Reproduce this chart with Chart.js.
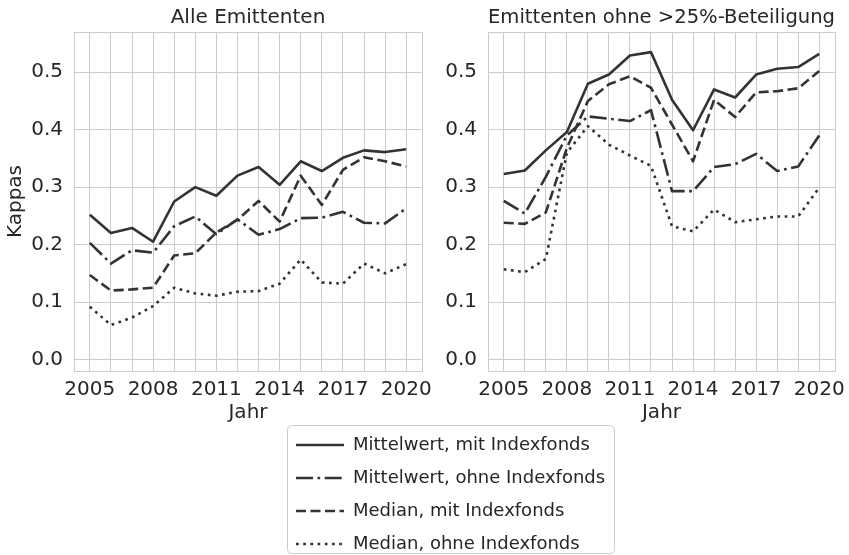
<!DOCTYPE html>
<html>
<head>
<meta charset="utf-8">
<script src="https://cdn.jsdelivr.net/npm/chart.js@4.4.1/dist/chart.umd.min.js"></script>
<style>
body{margin:0;background:#fff;width:849px;height:555px;overflow:hidden;position:relative}
.box{position:absolute}
</style>
</head>
<body>
<div class="box" style="left:0;top:0;width:440px;height:430px"><canvas id="left"></canvas></div>
<div class="box" style="left:440px;top:0;width:409px;height:430px"><canvas id="right"></canvas></div>
<div class="box" style="left:281px;top:421px;width:345px;height:150px"><canvas id="legend"></canvas></div>
<script>
// data

const years = [2005, 2006, 2007, 2008, 2009, 2010, 2011, 2012, 2013, 2014, 2015, 2016, 2017, 2018, 2019, 2020]
const xTickLabels = [2005, 2008, 2011, 2014, 2017, 2020]
const yTickValues = [0, 0.1, 0.2, 0.3, 0.4, 0.5]
const yTickLabels = ['0.0', '0.1', '0.2', '0.3', '0.4', '0.5']

const seriesNames = ['Mittelwert, mit Indexfonds', 'Mittelwert, ohne Indexfonds', 'Median, mit Indexfonds', 'Median, ohne Indexfonds']

// Alle Emittenten
const alleMittelMit = [0.252, 0.220, 0.229, 0.205, 0.275, 0.300, 0.285, 0.320, 0.335, 0.304, 0.345, 0.328, 0.351, 0.364, 0.361, 0.366]
const alleMittelOhne = [0.203, 0.167, 0.190, 0.186, 0.232, 0.249, 0.218, 0.244, 0.217, 0.227, 0.246, 0.247, 0.257, 0.238, 0.237, 0.263]
const alleMedianMit = [0.147, 0.120, 0.122, 0.125, 0.181, 0.185, 0.221, 0.243, 0.276, 0.240, 0.320, 0.269, 0.330, 0.352, 0.345, 0.336]
const alleMedianOhne = [0.092, 0.060, 0.073, 0.093, 0.125, 0.115, 0.111, 0.118, 0.119, 0.132, 0.174, 0.134, 0.132, 0.167, 0.150, 0.166]

// Emittenten ohne >25%-Beteiligung
const ohneMittelMit = [0.323, 0.329, 0.364, 0.396, 0.480, 0.496, 0.529, 0.535, 0.452, 0.399, 0.470, 0.456, 0.496, 0.506, 0.509, 0.532]
const ohneMittelOhne = [0.276, 0.254, 0.318, 0.390, 0.423, 0.419, 0.415, 0.434, 0.293, 0.293, 0.335, 0.340, 0.358, 0.328, 0.336, 0.390]
const ohneMedianMit = [0.238, 0.236, 0.256, 0.368, 0.450, 0.479, 0.493, 0.473, 0.409, 0.345, 0.452, 0.422, 0.465, 0.467, 0.472, 0.502]
const ohneMedianOhne = [0.157, 0.152, 0.175, 0.360, 0.406, 0.374, 0.355, 0.337, 0.232, 0.223, 0.261, 0.239, 0.244, 0.249, 0.249, 0.299]

const xMin = 2004.25, xMax = 2020.75
const yMin = -0.02, yMax = 0.57

// styles

const lw = 2.6
const lineColor = '#333333'
const dashes = [[], [17, 4.5, 2.7, 4.5], [10, 4.5], [2.7, 4.5]]
const gridColor = '#cccccc'
const textColor = '#262626'
const font = {family: 'DejaVu Sans', size: 20}

function makeDatasets(seriesList){
   return seriesList.map((values, i) => ({
      label: seriesNames[i],
      data: values.map((v, j) => ({x: years[j], y: v})),
      borderColor: lineColor,
      borderWidth: lw,
      borderDash: dashes[i],
      borderJoinStyle: 'round',
      pointRadius: 0,
      tension: 0,
      fill: false
   }))
}

function makeOptions(title, yWidth, showYTitle, padRight){
   return {
      responsive: true,
      maintainAspectRatio: false,
      animation: false,
      layout: {padding: {top: 0, bottom: 1, left: 0, right: padRight}},
      plugins: {legend: {display: false}, tooltip: {enabled: false}},
      scales: {
         x: {
            type: 'linear',
            min: xMin,
            max: xMax,
            afterBuildTicks: s => { s.ticks = [xMin, ...years, xMax].map(value => ({value})) },
            afterFit: s => { s.height = 58 },
            ticks: {
               autoSkip: false, maxRotation: 0, minRotation: 0, padding: 7,
               font: font, color: textColor,
               callback: v => xTickLabels.includes(v) ? String(v) : ''
            },
            grid: {color: gridColor, lineWidth: 1, drawTicks: false},
            border: {color: gridColor},
            title: {display: true, text: 'Jahr', font: font, color: textColor, padding: {top: 4, bottom: 4}}
         },
         top: {
            type: 'linear',
            position: 'top',
            afterFit: s => { s.height = 32 },
            ticks: {display: false},
            grid: {display: false},
            border: {display: false},
            title: {display: true, text: title, font: font, color: textColor, padding: {top: 6, bottom: 2}}
         },
         y: {
            min: yMin,
            max: yMax,
            afterBuildTicks: s => { s.ticks = [yMin, ...yTickValues, yMax].map(value => ({value})) },
            afterFit: s => { s.width = yWidth },
            ticks: {
               padding: 11, font: font, color: textColor,
               callback: v => {
                  const i = yTickValues.findIndex(t => Math.abs(t - v) < 1e-9)
                  return i >= 0 ? yTickLabels[i] : ''
               }
            },
            grid: {color: gridColor, lineWidth: 1, drawTicks: false},
            border: {color: gridColor},
            title: {display: showYTitle, text: 'Kappas', font: font, color: textColor, padding: {top: 4, bottom: 4}}
         }
      }
   }
}

new Chart(document.getElementById('left'), {
   type: 'line',
   data: {datasets: makeDatasets([alleMittelMit, alleMittelOhne, alleMedianMit, alleMedianOhne])},
   options: makeOptions('Alle Emittenten', 74, true, 18)
})

new Chart(document.getElementById('right'), {
   type: 'line',
   data: {datasets: makeDatasets([ohneMittelMit, ohneMittelOhne, ohneMedianMit, ohneMedianOhne])},
   options: makeOptions('Emittenten ohne >25%-Beteiligung', 48, false, 14)
})

// legend only chart, with a frame round it

const legendFrame = {
   id: 'legendFrame',
   afterDraw(chart){
      const ctx = chart.ctx
      ctx.save()
      ctx.strokeStyle = gridColor
      ctx.lineWidth = 1
      ctx.beginPath()
      ctx.roundRect(6.5, 4.5, 327, 128, 4)
      ctx.stroke()
      ctx.restore()
   }
}

new Chart(document.getElementById('legend'), {
   type: 'line',
   data: {datasets: seriesNames.map((name, i) => ({
      label: name, data: [], borderColor: lineColor, borderWidth: lw, borderDash: dashes[i]
   }))},
   options: {
      responsive: true,
      maintainAspectRatio: false,
      animation: false,
      layout: {padding: 0},
      scales: {x: {display: false}, y: {display: false}},
      plugins: {
         tooltip: {enabled: false},
         legend: {
            position: 'left',
            align: 'start',
            maxWidth: 345,
            labels: {
               usePointStyle: true, pointStyle: 'line', pointStyleWidth: 48,
               padding: 15, color: textColor,
               font: {family: 'DejaVu Sans', size: 18},
               generateLabels: chart => {
                  const items = Chart.defaults.plugins.legend.labels.generateLabels(chart)
                  items.forEach((item, i) => {
                     item.lineDash = dashes[i]
                     item.lineWidth = lw
                     item.strokeStyle = lineColor
                  })
                  return items
               }
            }
         }
      }
   },
   plugins: [legendFrame]
})
</script>
</body>
</html>
